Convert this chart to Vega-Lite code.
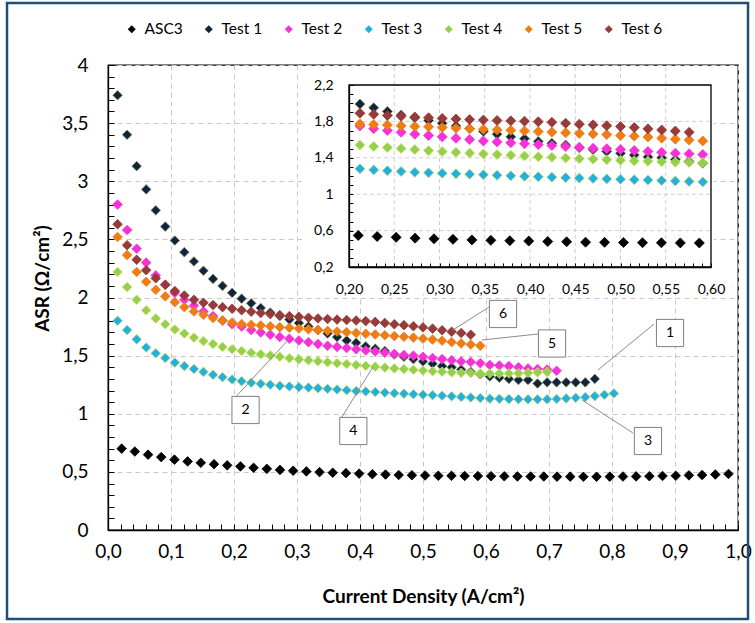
{
  "$schema": "https://vega.github.io/schema/vega-lite/v6.json",
  "width": 630,
  "height": 465,
  "autosize": {"type": "none"},
  "padding": {"left": 108, "top": 65, "right": 17, "bottom": 93},
  "background": "white",
  "config": {
    "font": "Lato",
    "view": {"stroke": "#000000", "strokeWidth": 1.3},
    "legend": {"padding": 0}
  },
  "datasets": {
    "pts": [
      {"s":"ASC3","x":0.0217,"y":0.70},{"s":"ASC3","x":0.0426,"y":0.675},{"s":"ASC3","x":0.0636,"y":0.648},{"s":"ASC3","x":0.0845,"y":0.627},{"s":"ASC3","x":0.1055,"y":0.605},{"s":"ASC3","x":0.1264,"y":0.59},{"s":"ASC3","x":0.1473,"y":0.578},{"s":"ASC3","x":0.1683,"y":0.566},{"s":"ASC3","x":0.1892,"y":0.556},{"s":"ASC3","x":0.2102,"y":0.547},{"s":"ASC3","x":0.2311,"y":0.535},{"s":"ASC3","x":0.2521,"y":0.526},{"s":"ASC3","x":0.2730,"y":0.517},{"s":"ASC3","x":0.2939,"y":0.51},{"s":"ASC3","x":0.3149,"y":0.504},{"s":"ASC3","x":0.3358,"y":0.498},{"s":"ASC3","x":0.3567,"y":0.493},{"s":"ASC3","x":0.3777,"y":0.489},{"s":"ASC3","x":0.3986,"y":0.485},{"s":"ASC3","x":0.4196,"y":0.48},{"s":"ASC3","x":0.4405,"y":0.477},{"s":"ASC3","x":0.4614,"y":0.473},{"s":"ASC3","x":0.4824,"y":0.471},{"s":"ASC3","x":0.5033,"y":0.469},{"s":"ASC3","x":0.5243,"y":0.467},{"s":"ASC3","x":0.5452,"y":0.466},{"s":"ASC3","x":0.5661,"y":0.465},{"s":"ASC3","x":0.5871,"y":0.464},{"s":"ASC3","x":0.6080,"y":0.463},{"s":"ASC3","x":0.6290,"y":0.462},{"s":"ASC3","x":0.6499,"y":0.461},{"s":"ASC3","x":0.6708,"y":0.46},{"s":"ASC3","x":0.6918,"y":0.46},{"s":"ASC3","x":0.7127,"y":0.459},{"s":"ASC3","x":0.7337,"y":0.459},{"s":"ASC3","x":0.7546,"y":0.458},{"s":"ASC3","x":0.7755,"y":0.458},{"s":"ASC3","x":0.7965,"y":0.459},{"s":"ASC3","x":0.8174,"y":0.46},{"s":"ASC3","x":0.8383,"y":0.461},{"s":"ASC3","x":0.8593,"y":0.463},{"s":"ASC3","x":0.8802,"y":0.465},{"s":"ASC3","x":0.9012,"y":0.467},{"s":"ASC3","x":0.9221,"y":0.47},{"s":"ASC3","x":0.9430,"y":0.473},{"s":"ASC3","x":0.9640,"y":0.477},{"s":"ASC3","x":0.9849,"y":0.482},
      {"s":"Test 1","x":0.0152,"y":3.74},{"s":"Test 1","x":0.0303,"y":3.40},{"s":"Test 1","x":0.0455,"y":3.13},{"s":"Test 1","x":0.0606,"y":2.93},{"s":"Test 1","x":0.0758,"y":2.75},{"s":"Test 1","x":0.0909,"y":2.61},{"s":"Test 1","x":0.1061,"y":2.49},{"s":"Test 1","x":0.1212,"y":2.39},{"s":"Test 1","x":0.1364,"y":2.31},{"s":"Test 1","x":0.1515,"y":2.23},{"s":"Test 1","x":0.1667,"y":2.16},{"s":"Test 1","x":0.1818,"y":2.10},{"s":"Test 1","x":0.1970,"y":2.04},{"s":"Test 1","x":0.2121,"y":1.99},{"s":"Test 1","x":0.2273,"y":1.95},{"s":"Test 1","x":0.2424,"y":1.91},{"s":"Test 1","x":0.2576,"y":1.87},{"s":"Test 1","x":0.2727,"y":1.84},{"s":"Test 1","x":0.2879,"y":1.81},{"s":"Test 1","x":0.3030,"y":1.78},{"s":"Test 1","x":0.3182,"y":1.75},{"s":"Test 1","x":0.3333,"y":1.72},{"s":"Test 1","x":0.3485,"y":1.69},{"s":"Test 1","x":0.3636,"y":1.66},{"s":"Test 1","x":0.3788,"y":1.63},{"s":"Test 1","x":0.3939,"y":1.61},{"s":"Test 1","x":0.4091,"y":1.58},{"s":"Test 1","x":0.4242,"y":1.56},{"s":"Test 1","x":0.4394,"y":1.54},{"s":"Test 1","x":0.4545,"y":1.51},{"s":"Test 1","x":0.4697,"y":1.49},{"s":"Test 1","x":0.4848,"y":1.47},{"s":"Test 1","x":0.5000,"y":1.45},{"s":"Test 1","x":0.5152,"y":1.43},{"s":"Test 1","x":0.5303,"y":1.41},{"s":"Test 1","x":0.5455,"y":1.40},{"s":"Test 1","x":0.5606,"y":1.38},{"s":"Test 1","x":0.5758,"y":1.36},{"s":"Test 1","x":0.5909,"y":1.34},{"s":"Test 1","x":0.6061,"y":1.32},{"s":"Test 1","x":0.6212,"y":1.31},{"s":"Test 1","x":0.6364,"y":1.30},{"s":"Test 1","x":0.6515,"y":1.29},{"s":"Test 1","x":0.6667,"y":1.29},{"s":"Test 1","x":0.6818,"y":1.26},{"s":"Test 1","x":0.6970,"y":1.27},{"s":"Test 1","x":0.7121,"y":1.27},{"s":"Test 1","x":0.7273,"y":1.27},{"s":"Test 1","x":0.7424,"y":1.27},{"s":"Test 1","x":0.7576,"y":1.27},{"s":"Test 1","x":0.7727,"y":1.30},
      {"s":"Test 2","x":0.0152,"y":2.80},{"s":"Test 2","x":0.0303,"y":2.58},{"s":"Test 2","x":0.0455,"y":2.42},{"s":"Test 2","x":0.0606,"y":2.30},{"s":"Test 2","x":0.0758,"y":2.19},{"s":"Test 2","x":0.0909,"y":2.11},{"s":"Test 2","x":0.1061,"y":2.04},{"s":"Test 2","x":0.1212,"y":1.98},{"s":"Test 2","x":0.1364,"y":1.93},{"s":"Test 2","x":0.1515,"y":1.88},{"s":"Test 2","x":0.1667,"y":1.84},{"s":"Test 2","x":0.1818,"y":1.80},{"s":"Test 2","x":0.1970,"y":1.77},{"s":"Test 2","x":0.2121,"y":1.75},{"s":"Test 2","x":0.2273,"y":1.72},{"s":"Test 2","x":0.2424,"y":1.70},{"s":"Test 2","x":0.2576,"y":1.68},{"s":"Test 2","x":0.2727,"y":1.66},{"s":"Test 2","x":0.2879,"y":1.645},{"s":"Test 2","x":0.3030,"y":1.63},{"s":"Test 2","x":0.3182,"y":1.615},{"s":"Test 2","x":0.3333,"y":1.60},{"s":"Test 2","x":0.3485,"y":1.585},{"s":"Test 2","x":0.3636,"y":1.575},{"s":"Test 2","x":0.3788,"y":1.565},{"s":"Test 2","x":0.3939,"y":1.555},{"s":"Test 2","x":0.4091,"y":1.545},{"s":"Test 2","x":0.4242,"y":1.535},{"s":"Test 2","x":0.4394,"y":1.525},{"s":"Test 2","x":0.4545,"y":1.515},{"s":"Test 2","x":0.4697,"y":1.505},{"s":"Test 2","x":0.4848,"y":1.50},{"s":"Test 2","x":0.5000,"y":1.49},{"s":"Test 2","x":0.5152,"y":1.48},{"s":"Test 2","x":0.5303,"y":1.47},{"s":"Test 2","x":0.5455,"y":1.46},{"s":"Test 2","x":0.5606,"y":1.45},{"s":"Test 2","x":0.5758,"y":1.445},{"s":"Test 2","x":0.5909,"y":1.435},{"s":"Test 2","x":0.6061,"y":1.42},{"s":"Test 2","x":0.6212,"y":1.415},{"s":"Test 2","x":0.6364,"y":1.41},{"s":"Test 2","x":0.6515,"y":1.40},{"s":"Test 2","x":0.6667,"y":1.39},{"s":"Test 2","x":0.6818,"y":1.385},{"s":"Test 2","x":0.6970,"y":1.38},{"s":"Test 2","x":0.7121,"y":1.37},
      {"s":"Test 3","x":0.0152,"y":1.80},{"s":"Test 3","x":0.0303,"y":1.72},{"s":"Test 3","x":0.0455,"y":1.64},{"s":"Test 3","x":0.0606,"y":1.57},{"s":"Test 3","x":0.0758,"y":1.52},{"s":"Test 3","x":0.0909,"y":1.48},{"s":"Test 3","x":0.1061,"y":1.44},{"s":"Test 3","x":0.1212,"y":1.41},{"s":"Test 3","x":0.1364,"y":1.385},{"s":"Test 3","x":0.1515,"y":1.36},{"s":"Test 3","x":0.1667,"y":1.335},{"s":"Test 3","x":0.1818,"y":1.315},{"s":"Test 3","x":0.1970,"y":1.295},{"s":"Test 3","x":0.2121,"y":1.28},{"s":"Test 3","x":0.2273,"y":1.267},{"s":"Test 3","x":0.2424,"y":1.258},{"s":"Test 3","x":0.2576,"y":1.25},{"s":"Test 3","x":0.2727,"y":1.24},{"s":"Test 3","x":0.2879,"y":1.235},{"s":"Test 3","x":0.3030,"y":1.229},{"s":"Test 3","x":0.3182,"y":1.225},{"s":"Test 3","x":0.3333,"y":1.22},{"s":"Test 3","x":0.3485,"y":1.214},{"s":"Test 3","x":0.3636,"y":1.208},{"s":"Test 3","x":0.3788,"y":1.202},{"s":"Test 3","x":0.3939,"y":1.196},{"s":"Test 3","x":0.4091,"y":1.192},{"s":"Test 3","x":0.4242,"y":1.187},{"s":"Test 3","x":0.4394,"y":1.182},{"s":"Test 3","x":0.4545,"y":1.177},{"s":"Test 3","x":0.4697,"y":1.173},{"s":"Test 3","x":0.4848,"y":1.168},{"s":"Test 3","x":0.5000,"y":1.164},{"s":"Test 3","x":0.5152,"y":1.16},{"s":"Test 3","x":0.5303,"y":1.155},{"s":"Test 3","x":0.5455,"y":1.15},{"s":"Test 3","x":0.5606,"y":1.145},{"s":"Test 3","x":0.5758,"y":1.14},{"s":"Test 3","x":0.5909,"y":1.135},{"s":"Test 3","x":0.6061,"y":1.13},{"s":"Test 3","x":0.6212,"y":1.128},{"s":"Test 3","x":0.6364,"y":1.126},{"s":"Test 3","x":0.6515,"y":1.125},{"s":"Test 3","x":0.6667,"y":1.124},{"s":"Test 3","x":0.6818,"y":1.124},{"s":"Test 3","x":0.6970,"y":1.125},{"s":"Test 3","x":0.7121,"y":1.127},{"s":"Test 3","x":0.7273,"y":1.132},{"s":"Test 3","x":0.7424,"y":1.137},{"s":"Test 3","x":0.7576,"y":1.143},{"s":"Test 3","x":0.7727,"y":1.152},{"s":"Test 3","x":0.7879,"y":1.163},{"s":"Test 3","x":0.8030,"y":1.175},
      {"s":"Test 4","x":0.0152,"y":2.22},{"s":"Test 4","x":0.0303,"y":2.09},{"s":"Test 4","x":0.0455,"y":1.98},{"s":"Test 4","x":0.0606,"y":1.89},{"s":"Test 4","x":0.0758,"y":1.82},{"s":"Test 4","x":0.0909,"y":1.77},{"s":"Test 4","x":0.1061,"y":1.725},{"s":"Test 4","x":0.1212,"y":1.69},{"s":"Test 4","x":0.1364,"y":1.655},{"s":"Test 4","x":0.1515,"y":1.625},{"s":"Test 4","x":0.1667,"y":1.60},{"s":"Test 4","x":0.1818,"y":1.575},{"s":"Test 4","x":0.1970,"y":1.555},{"s":"Test 4","x":0.2121,"y":1.54},{"s":"Test 4","x":0.2273,"y":1.525},{"s":"Test 4","x":0.2424,"y":1.512},{"s":"Test 4","x":0.2576,"y":1.502},{"s":"Test 4","x":0.2727,"y":1.49},{"s":"Test 4","x":0.2879,"y":1.478},{"s":"Test 4","x":0.3030,"y":1.468},{"s":"Test 4","x":0.3182,"y":1.46},{"s":"Test 4","x":0.3333,"y":1.452},{"s":"Test 4","x":0.3485,"y":1.443},{"s":"Test 4","x":0.3636,"y":1.435},{"s":"Test 4","x":0.3788,"y":1.428},{"s":"Test 4","x":0.3939,"y":1.42},{"s":"Test 4","x":0.4091,"y":1.412},{"s":"Test 4","x":0.4242,"y":1.405},{"s":"Test 4","x":0.4394,"y":1.397},{"s":"Test 4","x":0.4545,"y":1.39},{"s":"Test 4","x":0.4697,"y":1.384},{"s":"Test 4","x":0.4848,"y":1.378},{"s":"Test 4","x":0.5000,"y":1.372},{"s":"Test 4","x":0.5152,"y":1.366},{"s":"Test 4","x":0.5303,"y":1.361},{"s":"Test 4","x":0.5455,"y":1.356},{"s":"Test 4","x":0.5606,"y":1.352},{"s":"Test 4","x":0.5758,"y":1.349},{"s":"Test 4","x":0.5909,"y":1.347},{"s":"Test 4","x":0.6061,"y":1.346},{"s":"Test 4","x":0.6212,"y":1.346},{"s":"Test 4","x":0.6364,"y":1.347},{"s":"Test 4","x":0.6515,"y":1.349},{"s":"Test 4","x":0.6667,"y":1.352},{"s":"Test 4","x":0.6818,"y":1.356},{"s":"Test 4","x":0.6970,"y":1.36},
      {"s":"Test 5","x":0.0152,"y":2.52},{"s":"Test 5","x":0.0303,"y":2.365},{"s":"Test 5","x":0.0455,"y":2.22},{"s":"Test 5","x":0.0606,"y":2.135},{"s":"Test 5","x":0.0758,"y":2.066},{"s":"Test 5","x":0.0909,"y":2.01},{"s":"Test 5","x":0.1061,"y":1.96},{"s":"Test 5","x":0.1212,"y":1.917},{"s":"Test 5","x":0.1364,"y":1.88},{"s":"Test 5","x":0.1515,"y":1.851},{"s":"Test 5","x":0.1667,"y":1.823},{"s":"Test 5","x":0.1818,"y":1.803},{"s":"Test 5","x":0.1970,"y":1.785},{"s":"Test 5","x":0.2121,"y":1.772},{"s":"Test 5","x":0.2273,"y":1.765},{"s":"Test 5","x":0.2424,"y":1.76},{"s":"Test 5","x":0.2576,"y":1.752},{"s":"Test 5","x":0.2727,"y":1.745},{"s":"Test 5","x":0.2879,"y":1.74},{"s":"Test 5","x":0.3030,"y":1.733},{"s":"Test 5","x":0.3182,"y":1.726},{"s":"Test 5","x":0.3333,"y":1.72},{"s":"Test 5","x":0.3485,"y":1.713},{"s":"Test 5","x":0.3636,"y":1.707},{"s":"Test 5","x":0.3788,"y":1.702},{"s":"Test 5","x":0.3939,"y":1.695},{"s":"Test 5","x":0.4091,"y":1.688},{"s":"Test 5","x":0.4242,"y":1.682},{"s":"Test 5","x":0.4394,"y":1.675},{"s":"Test 5","x":0.4545,"y":1.668},{"s":"Test 5","x":0.4697,"y":1.662},{"s":"Test 5","x":0.4848,"y":1.655},{"s":"Test 5","x":0.5000,"y":1.646},{"s":"Test 5","x":0.5152,"y":1.638},{"s":"Test 5","x":0.5303,"y":1.628},{"s":"Test 5","x":0.5455,"y":1.616},{"s":"Test 5","x":0.5606,"y":1.605},{"s":"Test 5","x":0.5758,"y":1.595},{"s":"Test 5","x":0.5909,"y":1.585},
      {"s":"Test 6","x":0.0152,"y":2.63},{"s":"Test 6","x":0.0303,"y":2.45},{"s":"Test 6","x":0.0455,"y":2.325},{"s":"Test 6","x":0.0606,"y":2.235},{"s":"Test 6","x":0.0758,"y":2.165},{"s":"Test 6","x":0.0909,"y":2.11},{"s":"Test 6","x":0.1061,"y":2.055},{"s":"Test 6","x":0.1212,"y":2.017},{"s":"Test 6","x":0.1364,"y":1.98},{"s":"Test 6","x":0.1515,"y":1.955},{"s":"Test 6","x":0.1667,"y":1.935},{"s":"Test 6","x":0.1818,"y":1.917},{"s":"Test 6","x":0.1970,"y":1.903},{"s":"Test 6","x":0.2121,"y":1.89},{"s":"Test 6","x":0.2273,"y":1.878},{"s":"Test 6","x":0.2424,"y":1.866},{"s":"Test 6","x":0.2576,"y":1.857},{"s":"Test 6","x":0.2727,"y":1.848},{"s":"Test 6","x":0.2879,"y":1.84},{"s":"Test 6","x":0.3030,"y":1.833},{"s":"Test 6","x":0.3182,"y":1.826},{"s":"Test 6","x":0.3333,"y":1.82},{"s":"Test 6","x":0.3485,"y":1.815},{"s":"Test 6","x":0.3636,"y":1.81},{"s":"Test 6","x":0.3788,"y":1.806},{"s":"Test 6","x":0.3939,"y":1.802},{"s":"Test 6","x":0.4091,"y":1.797},{"s":"Test 6","x":0.4242,"y":1.79},{"s":"Test 6","x":0.4394,"y":1.78},{"s":"Test 6","x":0.4545,"y":1.77},{"s":"Test 6","x":0.4697,"y":1.762},{"s":"Test 6","x":0.4848,"y":1.753},{"s":"Test 6","x":0.5000,"y":1.743},{"s":"Test 6","x":0.5152,"y":1.732},{"s":"Test 6","x":0.5303,"y":1.718},{"s":"Test 6","x":0.5455,"y":1.706},{"s":"Test 6","x":0.5606,"y":1.694},{"s":"Test 6","x":0.5758,"y":1.68}
    ],
    "callouts": [
      {"n":"1","bx":0.8921,"by":1.6946,"x1":0.7778,"y1":1.3763,"x2":0.8667,"y2":1.7720},
      {"n":"2","bx":0.2183,"by":1.0323,"x1":0.2873,"y1":1.6430,"x2":0.1968,"y2":1.1097},
      {"n":"3","bx":0.8571,"by":0.7656,"x1":0.7524,"y1":1.1183,"x2":0.8333,"y2":0.8344},
      {"n":"4","bx":0.3894,"by":0.8516,"x1":0.4206,"y1":1.4022,"x2":0.3683,"y2":0.9462},
      {"n":"5","bx":0.7048,"by":1.6043,"x1":0.5937,"y1":1.6344,"x2":0.6825,"y2":1.6860},
      {"n":"6","bx":0.6270,"by":1.8581,"x1":0.5476,"y1":1.7204,"x2":0.6048,"y2":1.9183}
    ],
    "insetGridX": [{"g":0.25},{"g":0.30},{"g":0.35},{"g":0.40},{"g":0.45},{"g":0.50},{"g":0.55}],
    "insetGridY": [{"g":0.6},{"g":1.0},{"g":1.4},{"g":1.8}]
  },
  "resolve": {"scale": {"x": "independent", "y": "independent"}, "axis": {"x": "independent", "y": "independent"}},
  "layer": [
    {
      "data": {"values": [{}]},
      "mark": {"type": "rect", "filled": false, "stroke": "#1f4e79", "strokeWidth": 2.5, "clip": false},
      "encoding": {
        "x": {"datum": -0.1603, "type": "quantitative", "scale": {"domain": [0, 1], "nice": false, "zero": false}, "axis": null},
        "x2": {"datum": 1.0159},
        "y": {"datum": 4.5333, "type": "quantitative", "scale": {"domain": [0, 4], "nice": false, "zero": false}, "axis": null},
        "y2": {"datum": -0.7656}
      }
    },
    {
      "data": {"name": "pts"},
      "mark": {"type": "point", "shape": "diamond", "filled": true, "opacity": 1, "size": 92, "strokeWidth": 0.8},
      "encoding": {
        "x": {
          "field": "x", "type": "quantitative",
          "scale": {"domain": [0, 1], "nice": false, "zero": false},
          "axis": {
            "orient": "bottom", "title": "Current Density (A/cm²)",
            "titleFont": "Lato", "titleFontSize": 19, "titleFontWeight": "bold", "titleColor": "#000000", "titlePadding": 26,
            "tickCount": 50, "tickSize": -6, "tickColor": "#000000", "tickWidth": 1,
            "labelPadding": 18, "labelFont": "Lato", "labelFontSize": 19, "labelColor": "#000000",
            "labelFlush": false, "labelOverlap": false, "labelBound": false,
            "labelExpr": "abs(datum.value*10 - round(datum.value*10)) < 0.001 ? replace(format(datum.value, '.1f'), '.', ',') : ''",
            "domainColor": "#000000", "domainWidth": 1.3,
            "grid": true, "gridColor": "#c8c8c8", "gridDash": [5, 4], "gridWidth": 1,
            "gridOpacity": {"condition": {"test": "abs(datum.value*10 - round(datum.value*10)) < 0.001", "value": 1}, "value": 0}
          }
        },
        "y": {
          "field": "y", "type": "quantitative",
          "scale": {"domain": [0, 4], "nice": false, "zero": false},
          "axis": {
            "orient": "left", "title": "ASR (Ω/cm²)",
            "titleFont": "Lato", "titleFontSize": 19, "titleFontWeight": "bold", "titleColor": "#000000", "titlePadding": 9, "titleY": 213,
            "tickCount": 40, "tickSize": -6, "tickColor": "#000000", "tickWidth": 1,
            "labelPadding": 26, "labelFont": "Lato", "labelFontSize": 19, "labelColor": "#000000",
            "labelFlush": false, "labelOverlap": false, "labelBound": false,
            "labelExpr": "abs(datum.value*2 - round(datum.value*2)) < 0.001 ? replace(toString(round(datum.value*10)/10), '.', ',') : ''",
            "domainColor": "#000000", "domainWidth": 1.3,
            "grid": true, "gridColor": "#c8c8c8", "gridDash": [5, 4], "gridWidth": 1,
            "gridOpacity": {"condition": {"test": "abs(datum.value*2 - round(datum.value*2)) < 0.001", "value": 1}, "value": 0}
          }
        },
        "fill": {
          "field": "s", "type": "nominal",
          "scale": {"domain": ["ASC3", "Test 1", "Test 2", "Test 3", "Test 4", "Test 5", "Test 6"],
                    "range": ["#000000", "#10243f", "#f731d8", "#21b1df", "#92d050", "#ef7d15", "#963a3a"]},
          "legend": {
            "orient": "none", "legendX": 16, "legendY": -44, "direction": "horizontal", "columns": 7,
            "title": null, "symbolType": "diamond", "symbolSize": 64, "symbolStrokeWidth": 0,
            "labelFont": "Lato", "labelFontSize": 15.5, "labelColor": "#000000", "labelOffset": 5, "columnPadding": 18
          }
        },
        "stroke": {
          "field": "s", "type": "nominal",
          "scale": {"domain": ["ASC3", "Test 1", "Test 2", "Test 3", "Test 4", "Test 5", "Test 6"],
                    "range": ["#000000", "#7d8c55", "#f731d8", "#b9d070", "#d3de5c", "#ef7d15", "#963a3a"]},
          "legend": null
        }
      }
    },
    {
      "data": {"name": "callouts"},
      "mark": {"type": "rule", "color": "#8c8c8c", "strokeWidth": 1},
      "encoding": {
        "x": {"field": "x1", "type": "quantitative", "scale": {"domain": [0, 1], "nice": false, "zero": false}, "axis": null},
        "y": {"field": "y1", "type": "quantitative", "scale": {"domain": [0, 4], "nice": false, "zero": false}, "axis": null},
        "x2": {"field": "x2"},
        "y2": {"field": "y2"}
      }
    },
    {
      "data": {"name": "callouts"},
      "mark": {"type": "point", "shape": "square", "size": 740, "filled": true, "fill": "#ffffff", "stroke": "#7f7f7f", "strokeWidth": 1, "opacity": 1},
      "encoding": {
        "x": {"field": "bx", "type": "quantitative", "scale": {"domain": [0, 1], "nice": false, "zero": false}, "axis": null},
        "y": {"field": "by", "type": "quantitative", "scale": {"domain": [0, 4], "nice": false, "zero": false}, "axis": null}
      }
    },
    {
      "data": {"name": "callouts"},
      "mark": {"type": "text", "font": "Lato", "fontSize": 14, "color": "#000000", "align": "center", "baseline": "middle"},
      "encoding": {
        "x": {"field": "bx", "type": "quantitative", "scale": {"domain": [0, 1], "nice": false, "zero": false}, "axis": null},
        "y": {"field": "by", "type": "quantitative", "scale": {"domain": [0, 4], "nice": false, "zero": false}, "axis": null},
        "text": {"field": "n"}
      }
    },
    {
      "data": {"values": [{}]},
      "mark": {"type": "rect", "fill": "#ffffff", "strokeWidth": 0},
      "encoding": {
        "x": {"datum": 0.148, "type": "quantitative", "scale": {"domain": [0.2, 0.6], "range": [241, 603], "nice": false, "zero": false}, "axis": null},
        "x2": {"datum": 0.603},
        "y": {"datum": -0.097, "type": "quantitative", "scale": {"domain": [0.2, 2.2], "range": [202, 20], "nice": false, "zero": false}, "axis": null},
        "y2": {"datum": 2.405}
      }
    },
    {
      "data": {"name": "insetGridX"},
      "mark": {"type": "rule", "color": "#cfcfcf", "strokeWidth": 1, "strokeDash": [4, 3]},
      "encoding": {
        "x": {"field": "g", "type": "quantitative", "scale": {"domain": [0.2, 0.6], "range": [241, 603], "nice": false, "zero": false}, "axis": null},
        "y": {"datum": 0.2, "type": "quantitative", "scale": {"domain": [0.2, 2.2], "range": [202, 20], "nice": false, "zero": false}, "axis": null},
        "y2": {"datum": 2.41}
      }
    },
    {
      "data": {"name": "insetGridY"},
      "mark": {"type": "rule", "color": "#cfcfcf", "strokeWidth": 1, "strokeDash": [4, 3]},
      "encoding": {
        "y": {"field": "g", "type": "quantitative", "scale": {"domain": [0.2, 2.2], "range": [202, 20], "nice": false, "zero": false}, "axis": null},
        "x": {"datum": 0.2, "type": "quantitative", "scale": {"domain": [0.2, 0.6], "range": [241, 603], "nice": false, "zero": false}, "axis": null},
        "x2": {"datum": 0.6}
      }
    },
    {
      "data": {"values": [{}]},
      "mark": {"type": "rect", "filled": false, "stroke": "#000000", "strokeWidth": 1.3},
      "encoding": {
        "x": {"datum": 0.2, "type": "quantitative", "scale": {"domain": [0.2, 0.6], "range": [241, 603], "nice": false, "zero": false}, "axis": null},
        "x2": {"datum": 0.6},
        "y": {"datum": 0.2, "type": "quantitative", "scale": {"domain": [0.2, 2.2], "range": [202, 20], "nice": false, "zero": false}, "axis": null},
        "y2": {"datum": 2.2}
      }
    },
    {
      "data": {"name": "pts"},
      "transform": [{"filter": "datum.x >= 0.2 && datum.x <= 0.6"}],
      "mark": {"type": "point", "shape": "diamond", "filled": true, "opacity": 1, "size": 100, "strokeWidth": 0.8},
      "encoding": {
        "x": {
          "field": "x", "type": "quantitative",
          "scale": {"domain": [0.2, 0.6], "range": [241, 603], "nice": false, "zero": false},
          "axis": {
            "orient": "bottom", "offset": -263, "title": null, "zindex": 1,
            "tickCount": 40, "tickSize": -4, "tickColor": "#000000", "tickWidth": 1,
            "labelPadding": 19, "labelFont": "Lato", "labelFontSize": 14, "labelColor": "#000000",
            "labelFlush": false, "labelOverlap": false, "labelBound": false,
            "labelExpr": "abs(datum.value*20 - round(datum.value*20)) < 0.001 ? replace(format(datum.value, '.2f'), '.', ',') : ''",
            "domainColor": "#000000", "domainWidth": 1.3,
            "grid": false
          }
        },
        "y": {
          "field": "y", "type": "quantitative",
          "scale": {"domain": [0.2, 2.2], "range": [202, 20], "nice": false, "zero": false},
          "axis": {
            "orient": "left", "offset": -241, "title": null, "zindex": 1,
            "tickCount": 20, "tickSize": -4, "tickColor": "#000000", "tickWidth": 1,
            "labelPadding": 20, "labelFont": "Lato", "labelFontSize": 14, "labelColor": "#000000",
            "labelFlush": false, "labelOverlap": false, "labelBound": false,
            "labelExpr": "abs((datum.value*10-2)/4 - round((datum.value*10-2)/4)) < 0.01 ? replace(toString(round(datum.value*10)/10), '.', ',') : ''",
            "domainColor": "#000000", "domainWidth": 1.3,
            "grid": false
          }
        },
        "fill": {"field": "s", "type": "nominal", "legend": null},
        "stroke": {"field": "s", "type": "nominal", "legend": null}
      }
    }
  ]
}
